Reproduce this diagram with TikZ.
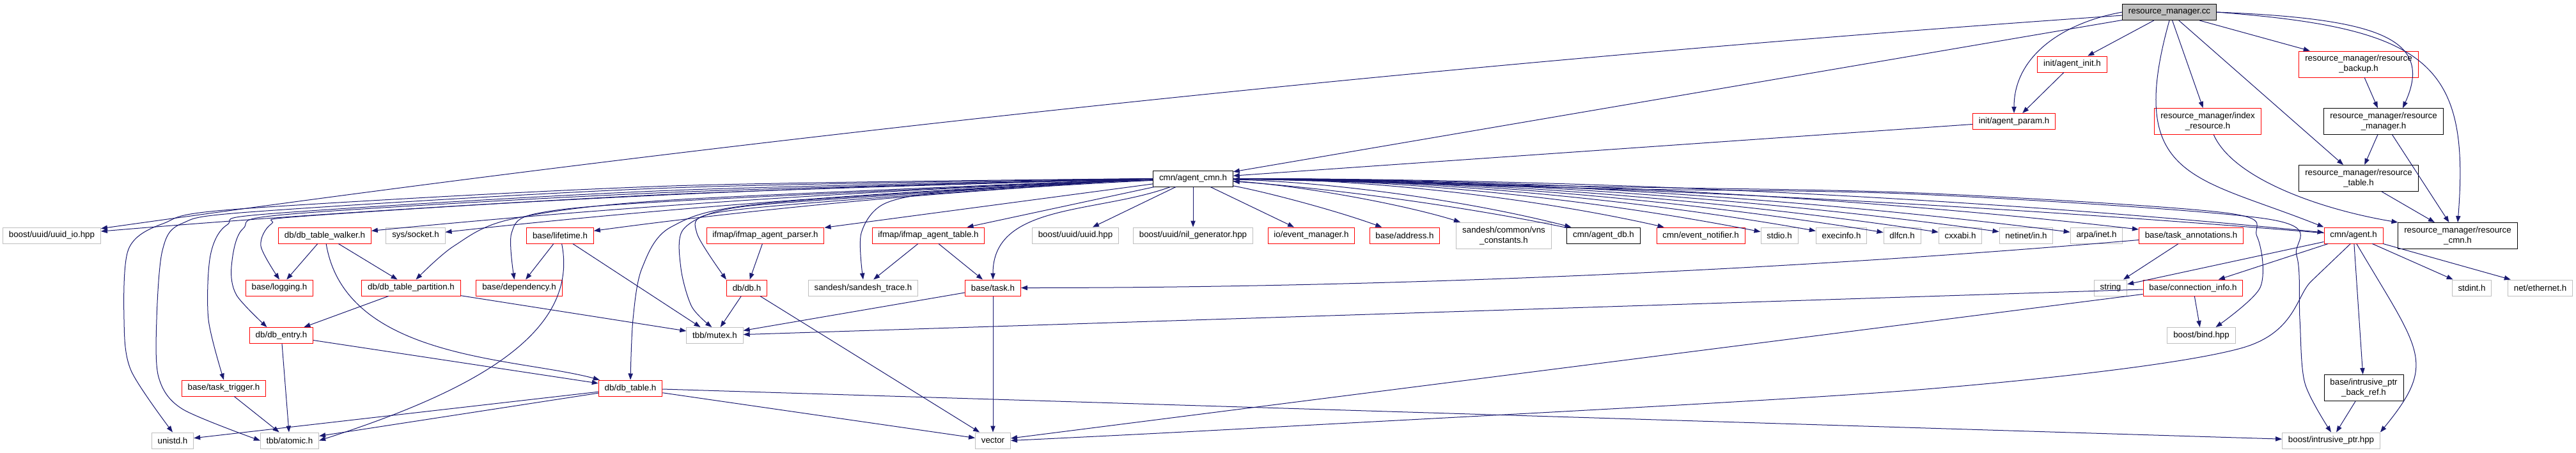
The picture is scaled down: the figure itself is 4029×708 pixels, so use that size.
\documentclass[tikz,border=0pt]{standalone}
\usepackage{fontspec}
\setmainfont{Liberation Sans}
\usetikzlibrary{arrows.meta}
\definecolor{edgeblue}{RGB}{25,25,112}
\definecolor{grey75}{RGB}{191,191,191}
\tikzset{
  hfile/.style={draw, fill=white, line width=0.75pt, font=\fontsize{10}{12}\selectfont, inner xsep=7pt, inner ysep=3pt, minimum height=18.75pt, align=center},
  redfile/.style={hfile, draw=red},
  sysfile/.style={hfile, draw=grey75},
  docfile/.style={hfile, draw=black},
  rootfile/.style={hfile, draw=black, fill=grey75},
  twoline/.style={minimum height=30.75pt},
  dep/.style={draw=edgeblue, line width=0.75pt, -{Triangle[length=7.5pt,width=5.5pt]}}
}
\begin{document}
\begin{tikzpicture}[x=0.75pt, y=0.75pt]
    \useasboundingbox (0,0) rectangle (4029,-708);
    \fill [white] (0,0) rectangle (4029,-708);
    \node [rootfile] (rmcc) at (3393,-19) {resource\_manager.cc};
    \node [redfile] (agentinit) at (3241,-100.5) {init/agent\_init.h};
    \node [redfile, twoline] (rmbackup) at (3689,-100.5) {resource\_manager/resource\\\_backup.h};
    \node [redfile] (agentparam) at (3150,-190) {init/agent\_param.h};
    \node [redfile, twoline] (idxres) at (3453,-190) {resource\_manager/index\\\_resource.h};
    \node [docfile, twoline] (rmmgr) at (3728,-190) {resource\_manager/resource\\\_manager.h};
    \node [docfile] (agentcmn) at (1866,-279.5) {cmn/agent\_cmn.h};
    \node [docfile, twoline] (rmtable) at (3689,-279) {resource\_manager/resource\\\_table.h};
    \node [sysfile] (uuidio) at (81,-368.5) {boost/uuid/uuid\_io.hpp};
    \node [redfile] (dbwalker) at (508,-368.5) {db/db\_table\_walker.h};
    \node [sysfile] (socket) at (650,-368.5) {sys/socket.h};
    \node [redfile] (lifetime) at (876,-368.5) {base/lifetime.h};
    \node [redfile] (ifparser) at (1197,-368.5) {ifmap/ifmap\_agent\_parser.h};
    \node [redfile] (iftable) at (1452,-368.5) {ifmap/ifmap\_agent\_table.h};
    \node [sysfile] (uuidhpp) at (1682,-368.5) {boost/uuid/uuid.hpp};
    \node [sysfile] (nilgen) at (1866,-368.5) {boost/uuid/nil\_generator.hpp};
    \node [redfile] (evmgr) at (2051,-368.5) {io/event\_manager.h};
    \node [redfile] (address) at (2197,-368.5) {base/address.h};
    \node [sysfile, twoline] (vnsconst) at (2352,-368.5) {sandesh/common/vns\\\_constants.h};
    \node [docfile] (agentdb) at (2508,-368.5) {cmn/agent\_db.h};
    \node [redfile] (evnotif) at (2660,-368.5) {cmn/event\_notifier.h};
    \node [sysfile] (stdio) at (2783,-368.5) {stdio.h};
    \node [sysfile] (execinfo) at (2880,-368.5) {execinfo.h};
    \node [sysfile] (dlfcn) at (2975,-368.5) {dlfcn.h};
    \node [sysfile] (cxxabi) at (3066,-368.5) {cxxabi.h};
    \node [sysfile] (netin) at (3169,-368.5) {netinet/in.h};
    \node [sysfile] (arpainet) at (3279,-368.5) {arpa/inet.h};
    \node [redfile] (taskann) at (3427,-368.5) {base/task\_annotations.h};
    \node [redfile] (agent) at (3681,-368.5) {cmn/agent.h};
    \node [docfile, twoline] (rmcmn) at (3844,-369) {resource\_manager/resource\\\_cmn.h};
    \node [redfile] (logging) at (437,-450.5) {base/logging.h};
    \node [redfile] (dbpart) at (643,-450.5) {db/db\_table\_partition.h};
    \node [redfile] (depend) at (812,-450.5) {base/dependency.h};
    \node [redfile] (dbh) at (1168,-450.5) {db/db.h};
    \node [sysfile] (strace) at (1350,-450.5) {sandesh/sandesh\_trace.h};
    \node [redfile] (task) at (1553,-450.5) {base/task.h};
    \node [sysfile] (string) at (3301,-450.5) {string};
    \node [redfile] (conninfo) at (3430,-450.5) {base/connection\_info.h};
    \node [sysfile] (stdint) at (3866,-450.5) {stdint.h};
    \node [sysfile] (ether) at (3973,-450.5) {net/ethernet.h};
    \node [redfile] (dbentry) at (440,-525) {db/db\_entry.h};
    \node [sysfile] (mutex) at (1118,-525) {tbb/mutex.h};
    \node [sysfile] (bind) at (3443,-525) {boost/bind.hpp};
    \node [redfile] (tasktrig) at (350,-607.5) {base/task\_trigger.h};
    \node [redfile] (dbtable) at (986,-607.5) {db/db\_table.h};
    \node [docfile, twoline] (backref) at (3697,-607) {base/intrusive\_ptr\\\_back\_ref.h};
    \node [sysfile] (unistd) at (270,-689.5) {unistd.h};
    \node [sysfile] (atomic) at (453,-689.5) {tbb/atomic.h};
    \node [sysfile] (vector) at (1553,-689.5) {vector};
    \node [sysfile] (intrusive) at (3646,-689.5) {boost/intrusive\_ptr.hpp};

    \draw [dep] (rmcc) .. controls +(-1104,-76) and +(1104,156) .. (uuidio);
    \draw [dep] (rmcc) -- (agentcmn);
    \draw [dep] (rmcc) -- (agentinit);
    \draw [dep] (rmcc.west) .. controls +(-90,-16) and +(0,91) .. (agentparam.north);
    \draw [dep] (rmcc) -- (idxres);
    \draw [dep] (rmcc) -- (rmbackup);
    \draw [dep] (rmcc.east) .. controls +(250,-10) and +(50,110) .. (rmmgr.35);
    \draw [dep] (rmcc) -- (rmtable);
    \draw [dep] (rmcc.east) .. controls +(330,-25) and +(20,250) .. (rmcmn.north);
    \draw [dep] (rmcc.south) .. controls +(-70,-250) and +(-200,80) .. (agent.north west);
    \draw [dep] (agentinit) -- (agentparam);
    \draw [dep] (agentparam) -- (agentcmn);
    \draw [dep] (idxres) .. controls +(40,-90) and +(-120,20) .. (rmcmn.north west);
    \draw [dep] (rmbackup) -- (rmmgr);
    \draw [dep] (rmmgr) -- (rmtable);
    \draw [dep] (rmmgr) -- (rmcmn);
    \draw [dep] (rmtable) -- (rmcmn);

    \draw [dep] (agentcmn) .. controls +(-595,-10) and +(595,50) .. (uuidio);
    \draw [dep] (agentcmn) .. controls +(-453,-15) and +(453,45) .. (dbwalker);
    \draw [dep] (agentcmn) .. controls +(-405,-15) and +(405,45) .. (socket);
    \draw [dep] (agentcmn) .. controls +(-330,-15) and +(330,45) .. (lifetime);
    \draw [dep] (agentcmn) -- (ifparser);
    \draw [dep] (agentcmn) -- (iftable);
    \draw [dep] (agentcmn) -- (uuidhpp);
    \draw [dep] (agentcmn) -- (nilgen);
    \draw [dep] (agentcmn) -- (evmgr);
    \draw [dep] (agentcmn) .. controls +(110,-20) and +(-110,40) .. (address);
    \draw [dep] (agentcmn) .. controls +(162,-10) and +(-162,50) .. (vnsconst);
    \draw [dep] (agentcmn) .. controls +(214,-5) and +(-214,55) .. (agentdb);
    \draw [dep] (agentdb) .. controls +(-214,45) and +(214,-15) .. (agentcmn);
    \draw [dep] (agentcmn) .. controls +(265,0) and +(-265,60) .. (evnotif);
    \draw [dep] (agentcmn) .. controls +(306,0) and +(-306,60) .. (stdio);
    \draw [dep] (agentcmn) .. controls +(338,0) and +(-338,60) .. (execinfo);
    \draw [dep] (agentcmn) .. controls +(370,0) and +(-370,60) .. (dlfcn);
    \draw [dep] (agentcmn) .. controls +(400,0) and +(-400,60) .. (cxxabi);
    \draw [dep] (agentcmn) .. controls +(434,0) and +(-434,60) .. (netin);
    \draw [dep] (agentcmn) .. controls +(471,0) and +(-471,60) .. (arpainet);
    \draw [dep] (agentcmn) .. controls +(520,0) and +(-520,60) .. (taskann);
    \draw [dep] (agentcmn) .. controls +(605,0) and +(-605,60) .. (agent);
    \draw [dep] (agent) .. controls +(-605,50) and +(605,-8) .. (agentcmn);
    \draw [dep] plot[smooth] coordinates {(agentcmn.west) (1050,-291) (375,-327) (255,-350) (201,-390) (194,-500) (205,-580) (unistd.north)};
    \draw [dep] plot[smooth] coordinates {(agentcmn.west) (1050,-294) (402,-331) (284,-350) (254,-392) (245,-500) (248,-590) (285,-640) (atomic.west)};
    \draw [dep] plot[smooth] coordinates {(agentcmn.west) (1050,-298) (429,-334) (355,-352) (329,-400) (326,-500) (tasktrig.north)};
    \draw [dep] plot[smooth] coordinates {(agentcmn.west) (1050,-301) (455,-335) (380,-358) (362,-417) (370,-462) (dbentry.150)};
    \draw [dep] plot[smooth] coordinates {(agentcmn.west) (1050,-304) (480,-338) (425,-350) (408,-385) (logging.north)};
    \draw [dep] plot[smooth] coordinates {(agentcmn.west) (1050,-313) (800,-343) (710,-385) (dbpart.60)};
    \draw [dep] plot[smooth] coordinates {(agentcmn.west) (1050,-315) (840,-334) (800,-365) (depend.120)};
    \draw [dep] plot[smooth] coordinates {(agentcmn.west) (1200,-318) (1050,-355) (1004,-420) (990,-500) (dbtable.north)};
    \draw [dep] plot[smooth] coordinates {(agentcmn.west) (1300,-312) (1134,-328) (1068,-360) (1065,-420) (1082,-480) (mutex.110)};
    \draw [dep] plot[smooth] coordinates {(agentcmn.west) (1300,-315) (1110,-335) (1090,-365) (dbh.north west)};
    \draw [dep] plot[smooth] coordinates {(agentcmn.west) (1500,-298) (1385,-318) (1347,-365) (strace.north)};
    \draw [dep] (agentcmn) .. controls +(-150,-55) and +(0,120) .. (task.north);
    \draw [dep] plot[smooth] coordinates {(agentcmn.east) (2500,-292) (3000,-302) (3480,-333) (3530,-370) (3535,-450) (bind.30)};
    \draw [dep] plot[smooth] coordinates {(agentcmn.east) (2500,-295) (3000,-304) (3548,-343) (3592,-400) (3597,-500) (3605,-600) (intrusive.north)};

    \draw [dep] (dbwalker) -- (logging);
    \draw [dep] (dbwalker) -- (dbpart);
    \draw [dep] (dbwalker) .. controls +(32,-195) and +(-178,48) .. (dbtable);
    \draw [dep] (lifetime) -- (depend);
    \draw [dep] (lifetime) -- (mutex.150);
    \draw [dep] (lifetime) .. controls +(30,-150) and +(250,80) .. (atomic.east);
    \draw [dep] (ifparser) -- (dbh);
    \draw [dep] (iftable) -- (strace);
    \draw [dep] (iftable) -- (task);
    \draw [dep] (taskann) -- (string);
    \draw [dep] (taskann) .. controls +(-625,-54) and +(625,0) .. (task);
    \draw [dep] (agent) -- (string);
    \draw [dep] (agent) -- (conninfo);
    \draw [dep] (agent) -- (stdint);
    \draw [dep] (agent) -- (ether);
    \draw [dep] (agent) -- (backref);
    \draw [dep] (agent.-70) .. controls +(100,-170) and +(90,110) .. (intrusive.north east);
    \draw [dep] plot[smooth] coordinates {(agent.-110) (3615,-440) (3505,-545) (3000,-610) (2000,-668) (vector.east)};
    \draw [dep] (conninfo) -- (bind);
    \draw [dep] (conninfo) -- (mutex);
    \draw [dep] (conninfo) -- (vector);
    \draw [dep] (dbh) -- (mutex);
    \draw [dep] (dbh) -- (vector);
    \draw [dep] (task) -- (mutex);
    \draw [dep] (task) -- (vector);
    \draw [dep] (dbpart) -- (dbentry);
    \draw [dep] (dbpart) -- (mutex);
    \draw [dep] (dbentry) -- (atomic);
    \draw [dep] (dbentry) -- (dbtable);
    \draw [dep] (tasktrig) -- (atomic);
    \draw [dep] (dbtable) -- (unistd);
    \draw [dep] (dbtable) -- (atomic);
    \draw [dep] (dbtable) -- (vector);
    \draw [dep] (dbtable) -- (intrusive);
    \draw [dep] (backref) -- (intrusive);
\end{tikzpicture}
\end{document}
